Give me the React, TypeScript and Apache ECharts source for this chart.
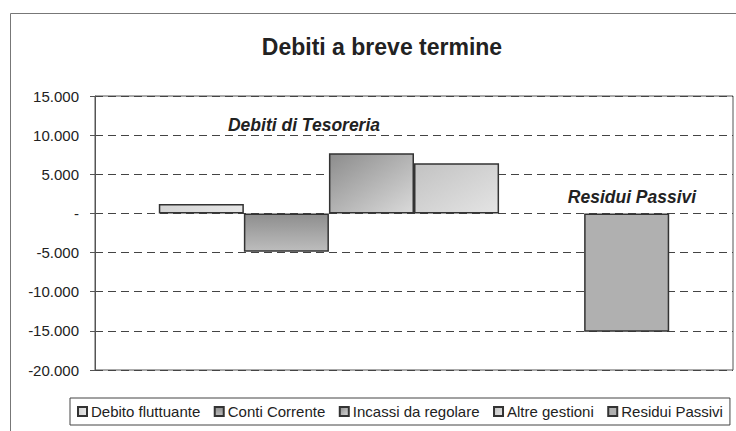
import React, { useEffect, useRef } from "react";
import * as echarts from "echarts";

const categories = ["Debiti a breve termine"];
const seriesNames = [
  "Debito fluttuante",
  "Conti Corrente",
  "Incassi da regolare",
  "Altre gestioni",
  "Residui Passivi",
];
const debitoFluttuante = [1200];
const contiCorrente = [-4900];
const incassiDaRegolare = [7700];
const altreGestioni = [6400];
const residuiPassivi = [-15100];
const yTicks = { min: -20000, max: 15000, interval: 5000 };

const FONT = "Liberation Sans, Arial, sans-serif";

function grad(x2: number, y2: number, c1: string, c2: string) {
  return {
    type: "linear",
    x: 0,
    y: 0,
    x2,
    y2,
    colorStops: [
      { offset: 0, color: c1 },
      { offset: 1, color: c2 },
    ],
  };
}

function fmt(v: number) {
  if (v === 0) return "-";
  const s = Math.abs(v).toString().replace(/\B(?=(\d{3})+(?!\d))/g, ".");
  return (v < 0 ? "-" : "") + s;
}

export default function App() {
  const ref = useRef<HTMLDivElement>(null);
  useEffect(() => {
    document.body.style.margin = "0";
    const chart = echarts.init(ref.current!, null, { renderer: "svg" });
    const border = { borderColor: "#333", borderWidth: 1.5 };
    const bar = (name: string, data: (number | null)[], color: any) => ({
      type: "bar",
      name,
      data,
      barGap: "0%",
      barCategoryGap: "20%",
      itemStyle: { color, ...border },
      emphasis: { disabled: true },
    });
    chart.setOption({
      animation: false,
      backgroundColor: "#ffffff",
      title: {
        text: "Debiti a breve termine",
        left: 377,
        top: 30,
        textAlign: "center",
        textStyle: { fontFamily: FONT, fontSize: 23, fontWeight: "bold", color: "#222" },
      },
      legend: {
        data: seriesNames,
        icon: "rect",
        left: 70,
        top: 398,
        padding: [6, 7],
        itemGap: 13.5,
        itemWidth: 9,
        itemHeight: 9,
        borderColor: "#444",
        borderWidth: 1,
        textStyle: { fontFamily: FONT, fontSize: 15, color: "#222", padding: [0, 0, 0, -1] },
      },
      grid: {
        left: 95,
        top: 96,
        right: 3,
        bottom: 61,
        show: true,
        borderColor: "#555",
        borderWidth: 1,
      },
      xAxis: {
        type: "category",
        data: categories,
        axisLine: { show: false, onZero: false },
        axisTick: { show: false },
        axisLabel: { show: false },
      },
      yAxis: {
        type: "value",
        min: yTicks.min,
        max: yTicks.max,
        interval: yTicks.interval,
        axisLine: { show: true, lineStyle: { color: "#555" } },
        axisTick: { show: true, length: 5, lineStyle: { color: "#555" } },
        axisLabel: {
          formatter: fmt,
          fontFamily: FONT,
          fontSize: 15,
          color: "#222",
          margin: 16,
        },
        splitLine: {
          show: true,
          lineStyle: { color: "#444", type: [8, 5], width: 1.2 },
        },
      },
      graphic: [
        {
          type: "rect",
          shape: { x: 10.5, y: 13.5, width: 760, height: 460 },
          style: { fill: "none", stroke: "#777", lineWidth: 1 },
          silent: true,
        },
        {
          type: "text",
          x: 304,
          y: 125,
          style: {
            text: "Debiti di Tesoreria",
            fontFamily: FONT,
            fontSize: 17.5,
            fontWeight: "bold",
            fontStyle: "italic",
            fill: "#222",
            align: "center",
            verticalAlign: "middle",
          },
        },
        {
          type: "text",
          x: 632,
          y: 197,
          style: {
            text: "Residui Passivi",
            fontFamily: FONT,
            fontSize: 17.5,
            fontWeight: "bold",
            fontStyle: "italic",
            fill: "#222",
            align: "center",
            verticalAlign: "middle",
          },
        },
      ],
      series: [
        bar(seriesNames[0], debitoFluttuante, grad(1, 0, "#d4d4d4", "#e6e6e6")),
        bar(seriesNames[1], contiCorrente, grad(0, 1, "#8e8e8e", "#bdbdbd")),
        bar(seriesNames[2], incassiDaRegolare, grad(1, 1, "#8c8c8c", "#dadada")),
        bar(seriesNames[3], altreGestioni, grad(1, 1, "#c2c2c2", "#e4e4e4")),
        {
          type: "bar",
          name: "spacer",
          data: [null],
          barGap: "0%",
          barCategoryGap: "20%",
          silent: true,
        },
        bar(seriesNames[4], residuiPassivi, "#b0b0b0"),
      ],
    });
    return () => chart.dispose();
  }, []);
  return <div ref={ref} style={{ width: 736, height: 431 }} />;
}
